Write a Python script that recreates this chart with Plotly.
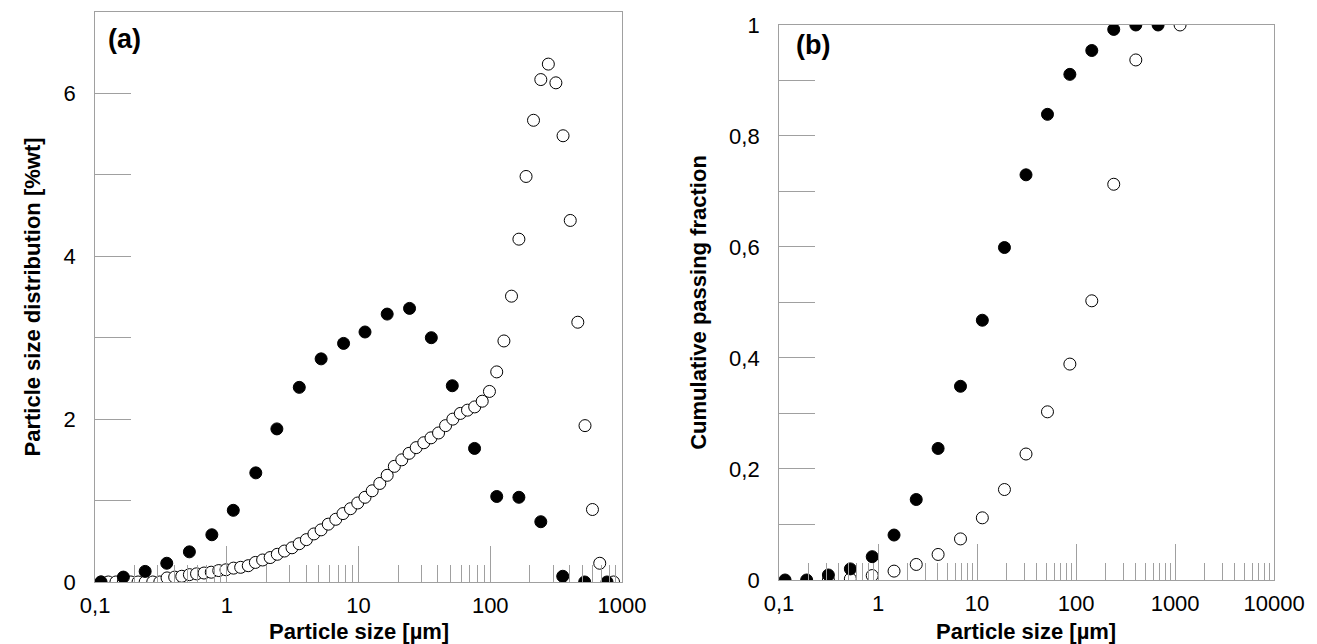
import plotly.graph_objects as go

# (a) particle size distribution, filled series
a_fill_x = [0.111, 0.164, 0.24, 0.35, 0.52, 0.77, 1.12, 1.66, 2.4, 3.55, 5.2, 7.7, 11.2, 16.5,
            24.4, 35.7, 51.5, 76, 112, 165, 242, 355, 521, 770]
a_fill_y = [0, 0.06, 0.13, 0.23, 0.37, 0.58, 0.88, 1.34, 1.88, 2.39, 2.74, 2.93, 3.07, 3.29,
            3.36, 3.0, 2.41, 1.64, 1.05, 1.04, 0.74, 0.07, 0, 0]

# (a) open series
a_open_x = [0.111, 0.126, 0.144, 0.164, 0.187, 0.212, 0.240, 0.274, 0.310, 0.352, 0.402, 0.455,
            0.520, 0.589, 0.672, 0.762, 0.869, 0.986, 1.125, 1.274, 1.455, 1.648, 1.870, 2.134,
            2.417, 2.740, 3.127, 3.545, 4.019, 4.585, 5.198, 5.893, 6.72, 7.62, 8.69, 9.86,
            11.2, 12.7, 14.5, 16.5, 18.7, 21.3, 24.2, 27.4, 31.3, 35.5, 40.5, 45.8, 52.0, 59.3,
            67.2, 76.2, 86.9, 98.6, 112, 127, 145, 165, 187, 213, 242, 276, 315, 357, 405, 462,
            524, 597, 678, 863]
a_open_y = [0, 0, 0, 0, 0, 0, 0, 0, 0, 0.05, 0.06, 0.07, 0.09, 0.10, 0.11, 0.12, 0.14, 0.15,
            0.17, 0.18, 0.20, 0.24, 0.27, 0.30, 0.34, 0.38, 0.42, 0.47, 0.52, 0.59, 0.64, 0.71,
            0.77, 0.84, 0.90, 0.97, 1.04, 1.12, 1.21, 1.31, 1.42, 1.50, 1.58, 1.65, 1.71, 1.77,
            1.83, 1.92, 2.00, 2.07, 2.11, 2.15, 2.22, 2.34, 2.58, 2.96, 3.51, 4.21, 4.98, 5.67,
            6.17, 6.36, 6.13, 5.48, 4.44, 3.19, 1.92, 0.89, 0.23, 0]

# (b) cumulative passing fraction
b_fill_x = [0.115, 0.19, 0.315, 0.525, 0.873, 1.45, 2.43, 4.04, 6.8, 11.3, 18.9, 31.2, 51.4,
            86.5, 144, 240, 401, 673]
b_fill_y = [0, 0, 0.009, 0.02, 0.042, 0.081, 0.145, 0.237, 0.349, 0.468, 0.599, 0.73, 0.839,
            0.911, 0.954, 0.992, 1.0, 1.0]
b_open_x = [0.315, 0.525, 0.873, 1.45, 2.43, 4.04, 6.8, 11.3, 18.9, 31.2, 51.4, 86.5, 144, 240,
            401, 1122]
b_open_y = [0, 0.002, 0.008, 0.016, 0.028, 0.046, 0.074, 0.112, 0.163, 0.227, 0.303, 0.389,
            0.503, 0.713, 0.937, 1.0]

FONT = "Liberation Sans, Arial, sans-serif"
filled = dict(size=12, color="black", line=dict(color="black", width=1))
opened = dict(size=12, color="white", line=dict(color="black", width=1))

fig = go.Figure()
fig.add_trace(go.Scatter(x=a_open_x, y=a_open_y, mode="markers", marker=opened, xaxis="x", yaxis="y"))
fig.add_trace(go.Scatter(x=a_fill_x, y=a_fill_y, mode="markers", marker=filled, xaxis="x", yaxis="y"))
fig.add_trace(go.Scatter(x=b_open_x, y=b_open_y, mode="markers", marker=opened, xaxis="x2", yaxis="y2"))
fig.add_trace(go.Scatter(x=b_fill_x, y=b_fill_y, mode="markers", marker=filled, xaxis="x2", yaxis="y2"))

axcommon = dict(showgrid=False, zeroline=False, showline=True, mirror=True, linecolor="#a0a0a0",
                linewidth=1, ticks="inside", tickcolor="#a0a0a0", tickwidth=1, ticklen=36,
                automargin=False,
                tickfont=dict(size=22, color="black", family=FONT),
                title_font=dict(size=22, color="black", family=FONT))
xminor = dict(ticks="inside", ticklen=17, tickcolor="#a0a0a0", dtick="D1")


def label(text, x, y, size=22, xanchor="left", yanchor="top"):
    return dict(text=text, xref="paper", yref="paper", x=x, y=y, xanchor=xanchor,
                yanchor=yanchor, showarrow=False, font=dict(size=size, color="black"))


fig.update_layout(
    width=1317, height=644, showlegend=False, plot_bgcolor="white", paper_bgcolor="white",
    margin=dict(l=30, r=10, t=0, b=40), separators=",.",
    font=dict(family=FONT),
    xaxis=dict(axcommon, type="log", range=[-1, 3], domain=[0.0447, 0.4573], anchor="y",
               tickvals=[0.1, 1, 10, 100, 1000], ticktext=["0,1", "1", "10", "100", "1000"],
               ticklabelstandoff=4, minor=xminor),
    yaxis=dict(axcommon, range=[0, 7], domain=[0.0497, 0.9934], anchor="x", dtick=2,
               ticklabelstandoff=14,
               minor=dict(ticks="inside", ticklen=36, tickcolor="#a0a0a0", dtick=1),
               title=dict(text="<b>Particle size distribution [%wt]</b>", standoff=16)),
    xaxis2=dict(axcommon, type="log", range=[-1, 4], domain=[0.5803, 0.968], anchor="y2",
                tickvals=[0.1, 1, 10, 100, 1000, 10000],
                ticktext=["0,1", "1", "10", "100", "1000", "10000"],
                ticklabelstandoff=4, minor=xminor),
    yaxis2=dict(axcommon, range=[0, 1], domain=[0.053, 0.9719], anchor="x2", dtick=0.2,
                ticklabelstandoff=14,
                minor=dict(ticks="inside", ticklen=36, tickcolor="#a0a0a0", dtick=0.1),
                title=dict(text="<b>Cumulative passing fraction</b>", standoff=16)),
    annotations=[
        label("<b>(a)</b>", 0.053, 0.9768, size=27),
        label("<b>(b)</b>", 0.592, 0.967, size=27),
        label("<b>Particle size [µm]</b>", 0.251, -0.032, xanchor="center", yanchor="middle"),
        label("<b>Particle size [µm]</b>", 0.774, -0.032, xanchor="center", yanchor="middle"),
    ],
)

fig.write_html("out.html")
